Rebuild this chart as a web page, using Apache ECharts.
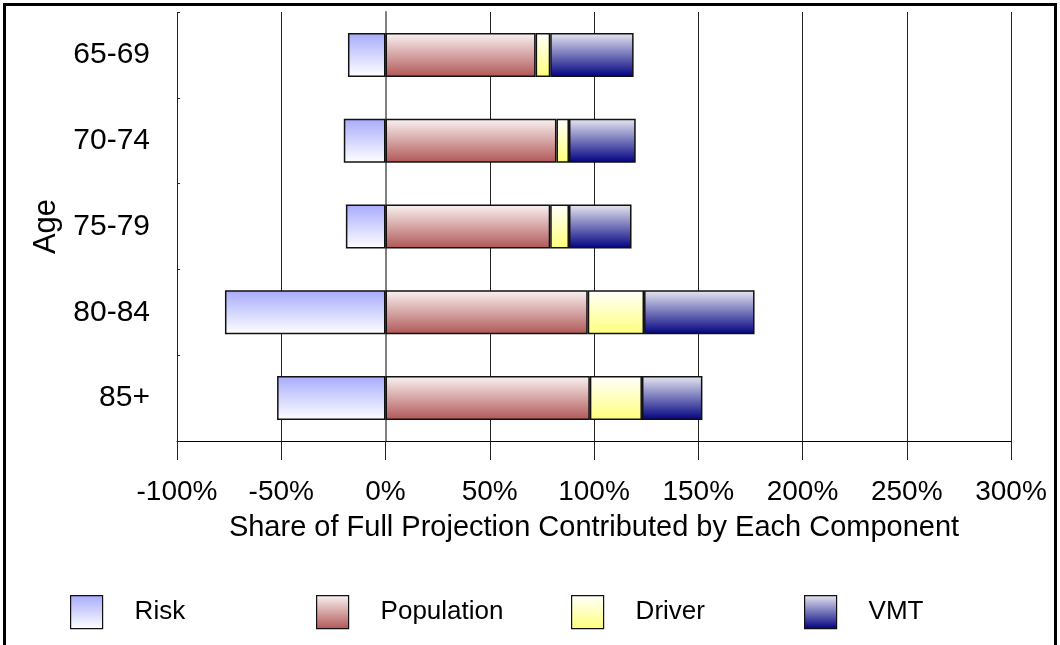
<!DOCTYPE html>
<html>
<head>
<meta charset="utf-8">
<script src="https://cdn.jsdelivr.net/npm/echarts@6/dist/echarts.min.js"></script>
<style>
html,body{margin:0;padding:0;background:#fff;}
#c{width:1060px;height:645px;}
</style>
</head>
<body>
<div id="c"></div>
<script>
var categories = ['65-69', '70-74', '75-79', '80-84', '85+'];
var risk = [-18, -20, -19, -77, -52];
var population = [72, 82, 79, 97, 98];
var driver = [7, 6, 9, 27, 25];
var vmt = [40, 32, 30, 53, 29];
var xTicks = { min: -100, max: 300, interval: 50 };

var FONT = '"Liberation Sans", Arial, sans-serif';
function grad(top, bottom) {
  return new echarts.graphic.LinearGradient(0, 0, 0, 1, [
    { offset: 0, color: top }, { offset: 1, color: bottom }
  ]);
}
var styles = {
  Risk: grad('#a7abfb', '#ffffff'),
  Population: grad('#faf3f3', '#b05656'),
  Driver: grad('#ffffff', '#ffff7a'),
  VMT: grad('#e8e8f2', '#000080')
};
function bar(name, data) {
  return {
    name: name, type: 'bar', stack: 'total', data: data, barWidth: 44,
    itemStyle: { color: styles[name], borderColor: '#111', borderWidth: 1.5 },
    emphasis: { disabled: true }
  };
}
function leg(name, left) {
  return {
    data: [name], left: left, top: 595, padding: 0, orient: 'horizontal',
    itemWidth: 32, itemHeight: 33, icon: 'rect',
    textStyle: { fontFamily: FONT, fontSize: 26, color: '#000', padding: [3, 0, 0, 27] },
    itemStyle: { borderColor: '#111', borderWidth: 1.2 },
    selectedMode: false
  };
}
var chart = echarts.init(document.getElementById('c'), null, { renderer: 'canvas' });
chart.setOption({
  animation: false,
  backgroundColor: '#fff',
  grid: { left: 177, right: 49, top: 12, bottom: 204, containLabel: false },
  legend: [leg('Risk', 70), leg('Population', 316), leg('Driver', 571), leg('VMT', 804)],
  xAxis: {
    type: 'value', min: xTicks.min, max: xTicks.max, interval: xTicks.interval,
    axisLine: { show: true, onZero: false, lineStyle: { color: '#000', width: 1 } },
    axisTick: { show: true, length: 19, lineStyle: { color: '#222', width: 1 } },
    splitLine: { show: true, lineStyle: { color: '#222', width: 1 } },
    axisLabel: { formatter: '{value}%', fontFamily: FONT, fontSize: 28, color: '#000', margin: 37 },
    name: 'Share of Full Projection Contributed by Each Component',
    nameLocation: 'middle', nameGap: 72,
    nameTextStyle: { fontFamily: FONT, fontSize: 29, color: '#000' }
  },
  yAxis: [{
    type: 'category', data: categories, inverse: true,
    axisLine: { show: true, lineStyle: { color: '#808080', width: 2 } },
    axisTick: { show: true, alignWithLabel: true, length: 19, lineStyle: { color: '#808080', width: 1.5 } },
    axisLabel: { fontFamily: FONT, fontSize: 30, color: '#000', margin: 27 },
    splitLine: { show: false },
    name: 'Age', nameLocation: 'middle', nameGap: 114,
    nameTextStyle: { fontFamily: FONT, fontSize: 31, color: '#000' }
  }, {
    type: 'category', data: categories, inverse: true, position: 'left',
    axisLine: { show: false },
    axisTick: { show: true, inside: true, length: 3, lineStyle: { color: '#222', width: 1 } },
    axisLabel: { show: false }, splitLine: { show: false }
  }],
  series: [bar('Risk', risk), bar('Population', population), bar('Driver', driver), bar('VMT', vmt)],
  graphic: [{
    type: 'rect', silent: true, z: 100,
    shape: { x: 4.5, y: 4.5, width: 1051, height: 700 },
    style: { fill: 'none', stroke: '#000', lineWidth: 3 }
  }]
});
</script>
</body>
</html>
